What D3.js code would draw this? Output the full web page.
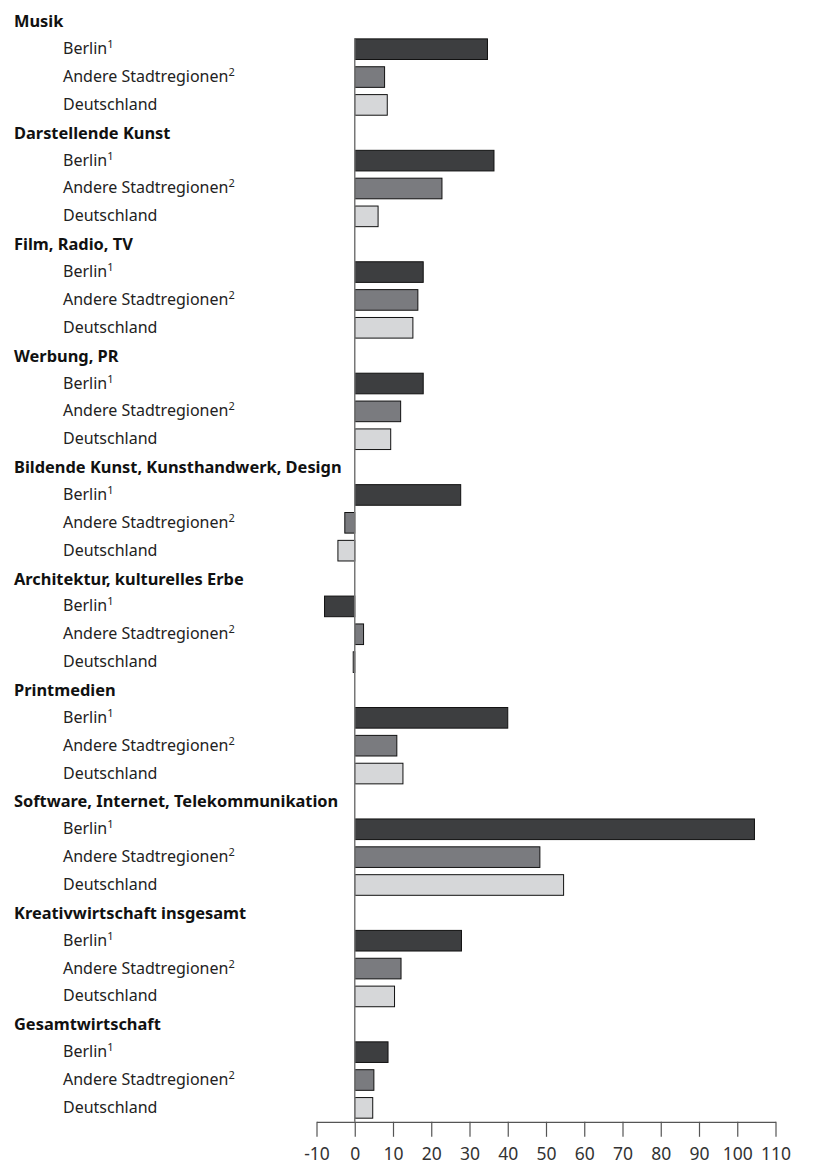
<!DOCTYPE html>
<html>
<head>
<meta charset="utf-8">
<script src="https://cdn.jsdelivr.net/npm/d3@7"></script>
<style>
body { margin: 0; background: #fff; }
text { font-family: "Noto Sans", sans-serif; }
</style>
</head>
<body>
<script>
var w = 814;
var h = 1165;

var categories = ["Musik", "Darstellende Kunst", "Film, Radio, TV", "Werbung, PR",
    "Bildende Kunst, Kunsthandwerk, Design", "Architektur, kulturelles Erbe",
    "Printmedien", "Software, Internet, Telekommunikation",
    "Kreativwirtschaft insgesamt", "Gesamtwirtschaft"];
var seriesNames = ["Berlin", "Andere Stadtregionen", "Deutschland"];
var seriesNotes = ["1", "2", ""];
var berlin      = [34.7, 36.4, 17.9, 17.9, 27.7, -7.9, 40.0, 104.5, 27.9, 8.7];
var andere      = [7.8, 22.8, 16.5, 12.0, -2.6, 2.3, 11.0, 48.4, 12.1, 5.0];
var deutschland = [8.5, 6.1, 15.2, 9.4, -4.4, -0.4, 12.6, 54.6, 10.4, 4.7];
var tickValues = [-10, 0, 10, 20, 30, 40, 50, 60, 70, 80, 90, 100, 110];

var colors = ["#3d3e40", "#7a7b7f", "#d6d7d9"];
var series = [berlin, andere, deutschland];

// one row for each header, three rows of bars below it
var rows = [];
categories.forEach(function (c, i) {
    rows.push({id: "h" + i, type: "head", label: c});
    seriesNames.forEach(function (s, j) {
        rows.push({id: "r" + i + "_" + j, type: "bar", label: s, note: seriesNotes[j],
            value: series[j][i], color: colors[j]});
    });
});

var x = d3.scaleLinear().domain([-10, 110]).range([316.5, 775.5]);
var y = d3.scaleBand()
    .domain(rows.map(function (d) { return d.id; }))
    .range([7.4, 1121.8])
    .paddingInner(0.26)
    .paddingOuter(0.13);

var svg = d3.select("body").append("svg")
    .attr("width", w)
    .attr("height", h);

//----labels----
rows.forEach(function (d) {
    var cy = y(d.id) + y.bandwidth() / 2;
    if (d.type == "head") {
        svg.append("text")
            .text(d.label)
            .attr("x", 14)
            .attr("y", cy + 6)
            .attr("font-size", 16.4)
            .attr("font-weight", "bold")
            .attr("fill", "#111");
    } else {
        var t = svg.append("text")
            .attr("x", 63)
            .attr("y", cy + 5)
            .attr("font-size", 16)
            .attr("fill", "#222");
        t.append("tspan").text(d.label);
        if (d.note) {
            t.append("tspan").text(d.note)
                .attr("font-size", 11)
                .attr("dy", -6);
        }
    }
});

//----bars----
var bars = rows.filter(function (d) { return d.type == "bar"; });
svg.selectAll("rect.bar")
    .data(bars)
    .enter().append("rect")
    .attr("class", "bar")
    .attr("x", function (d) { return x(Math.min(0, d.value)); })
    .attr("y", function (d) { return y(d.id); })
    .attr("width", function (d) { return Math.abs(x(d.value) - x(0)); })
    .attr("height", y.bandwidth())
    .attr("fill", function (d) { return d.color; })
    .attr("stroke", "#111")
    .attr("stroke-width", 1);

//----zero line----
svg.append("line")
    .attr("x1", x(0)).attr("x2", x(0))
    .attr("y1", y(rows[1].id))
    .attr("y2", 1121.8)
    .attr("stroke", "#777")
    .attr("stroke-width", 1.5);

//----axis----
var axis = svg.append("g")
    .attr("transform", "translate(0,1121.8)")
    .call(d3.axisBottom(x).tickValues(tickValues).tickSize(15).tickSizeOuter(0)
        .tickFormat(function (d) { return String(d); }));
axis.select(".domain").attr("stroke", "#555").attr("stroke-width", 1.2);
axis.selectAll(".tick line").attr("stroke", "#555").attr("stroke-width", 1.2);
axis.selectAll(".tick text")
    .attr("font-family", "Noto Sans, sans-serif")
    .attr("font-size", 17.5)
    .attr("fill", "#333")
    .attr("y", 38)
    .attr("dy", 0);
</script>
</body>
</html>
